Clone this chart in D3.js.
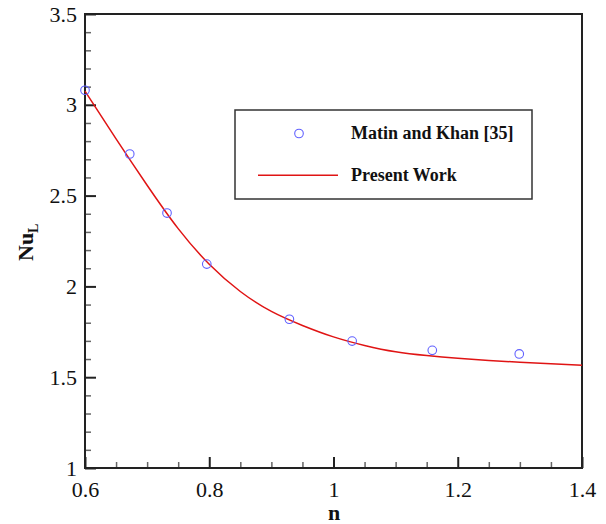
<!DOCTYPE html>
<html>
<head>
<meta charset="utf-8">
<script src="https://cdn.jsdelivr.net/npm/d3@7"></script>
<style>
  html, body { margin: 0; padding: 0; background: #fff; }
  svg { display: block; font-family: "Liberation Serif", "Times New Roman", serif; }
  svg text { font-family: "Liberation Serif", "Times New Roman", serif; }
</style>
</head>
<body>
<svg id="chart" width="606" height="524"></svg>
<script>
// ---- data ----
const matinN  = [0.600, 0.672, 0.732, 0.796, 0.929, 1.030, 1.159, 1.299];
const matinNu = [3.080, 2.729, 2.404, 2.123, 1.819, 1.699, 1.648, 1.628];

const presentN  = [0.60, 0.65, 0.70, 0.75, 0.80, 0.85, 0.90, 0.95, 1.00, 1.05, 1.10, 1.15, 1.20, 1.25, 1.30, 1.35, 1.40];
const presentNu = [3.075, 2.812, 2.557, 2.318, 2.122, 1.972, 1.862, 1.785, 1.722, 1.675, 1.640, 1.619, 1.604, 1.592, 1.582, 1.574, 1.566];

const xMajorTicks = [0.6, 0.8, 1.0, 1.2, 1.4];
const xTickLabels = ["0.6", "0.8", "1", "1.2", "1.4"];
const yMajorTicks = [1, 1.5, 2, 2.5, 3, 3.5];
const yTickLabels = ["1", "1.5", "2", "2.5", "3", "3.5"];
const xMinorTicks = [0.65, 0.7, 0.75, 0.85, 0.9, 0.95, 1.05, 1.1, 1.15, 1.25, 1.3, 1.35];
const yMinorTicks = [1.1, 1.2, 1.3, 1.4, 1.6, 1.7, 1.8, 1.9, 2.1, 2.2, 2.3, 2.4, 2.6, 2.7, 2.8, 2.9, 3.1, 3.2, 3.3, 3.4];
const legendLabels = ["Matin and Khan [35]", "Present Work"];

// ---- layout ----
const svg = d3.select("#chart");
const pLeft = 85, pRight = 582, pTop = 14, pBottom = 468;
const x = d3.scaleLinear().domain([0.6, 1.4]).range([pLeft, pRight]);
const y = d3.scaleLinear().domain([1, 3.5]).range([pBottom, pTop]);
const serif = '"Liberation Serif", "Times New Roman", serif';

// minor ticks
svg.append("g").attr("transform", `translate(0,${pBottom})`)
  .call(d3.axisBottom(x).tickValues(xMinorTicks).tickSize(-6).tickFormat(""))
  .call(g => g.select(".domain").remove())
  .call(g => g.selectAll("line").attr("stroke", "#666").attr("stroke-width", 1.5));
svg.append("g").attr("transform", `translate(${pLeft},0)`)
  .call(d3.axisLeft(y).tickValues(yMinorTicks).tickSize(-6).tickFormat(""))
  .call(g => g.select(".domain").remove())
  .call(g => g.selectAll("line").attr("stroke", "#666").attr("stroke-width", 1.5));

// major ticks with labels
svg.append("g").attr("transform", `translate(0,${pBottom})`)
  .call(d3.axisBottom(x).tickValues(xMajorTicks).tickSize(-11).tickPadding(13)
        .tickFormat((d, i) => xTickLabels[i]))
  .attr("font-family", null).attr("font-size", null)
  .call(g => g.select(".domain").remove())
  .call(g => g.selectAll("line").attr("stroke", "#222").attr("stroke-width", 2))
  .call(g => g.selectAll("text").style("font-family", serif).style("font-size", "22px").attr("fill", "#111"));
svg.append("g").attr("transform", `translate(${pLeft},0)`)
  .call(d3.axisLeft(y).tickValues(yMajorTicks).tickSize(-11).tickPadding(8)
        .tickFormat((d, i) => yTickLabels[i]))
  .attr("font-family", null).attr("font-size", null)
  .call(g => g.select(".domain").remove())
  .call(g => g.selectAll("line").attr("stroke", "#222").attr("stroke-width", 2))
  .call(g => g.selectAll("text").style("font-family", serif).style("font-size", "22px").attr("fill", "#111"));

// frame
svg.append("rect").attr("x", pLeft).attr("y", pTop)
  .attr("width", pRight - pLeft).attr("height", pBottom - pTop)
  .attr("fill", "none").attr("stroke", "#222").attr("stroke-width", 2);

// curve
const line = d3.line().x((d, i) => x(presentN[i])).y(d => y(d)).curve(d3.curveNatural);
svg.append("path").datum(presentNu).attr("d", line)
  .attr("fill", "none").attr("stroke", "#e01414").attr("stroke-width", 1.5);

// points
svg.append("g").selectAll("circle").data(matinNu).join("circle")
  .attr("cx", (d, i) => x(matinN[i])).attr("cy", d => y(d)).attr("r", 4.3)
  .attr("fill", "none").attr("stroke", "#6060ff").attr("stroke-width", 1.1);

// legend
const lg = svg.append("g");
lg.append("rect").attr("x", 235).attr("y", 110).attr("width", 297).attr("height", 89)
  .attr("fill", "#fff").attr("stroke", "#333").attr("stroke-width", 1.5);
lg.append("circle").attr("cx", 299).attr("cy", 133.5).attr("r", 4.3)
  .attr("fill", "none").attr("stroke", "#6060ff").attr("stroke-width", 1.1);
lg.append("line").attr("x1", 258).attr("x2", 338).attr("y1", 175.3).attr("y2", 175.3)
  .attr("stroke", "#e01414").attr("stroke-width", 1.5);
lg.append("text").attr("x", 351).attr("y", 138.5).text(legendLabels[0])
  .attr("font-weight", "bold").attr("font-size", 18).attr("fill", "#111");
lg.append("text").attr("x", 351).attr("y", 181).text(legendLabels[1])
  .attr("font-weight", "bold").attr("font-size", 18).attr("fill", "#111");

// axis titles
svg.append("text").attr("x", 334).attr("y", 520).attr("text-anchor", "middle")
  .attr("font-weight", "bold").attr("font-size", 22).attr("fill", "#111").text("n");
const yt = svg.append("text").attr("transform", "translate(33,261) rotate(-90)")
  .attr("font-weight", "bold").attr("font-size", 22).attr("fill", "#111");
yt.append("tspan").text("Nu");
yt.append("tspan").attr("dy", 5).attr("font-size", 14).text("L");
</script>
</body>
</html>
